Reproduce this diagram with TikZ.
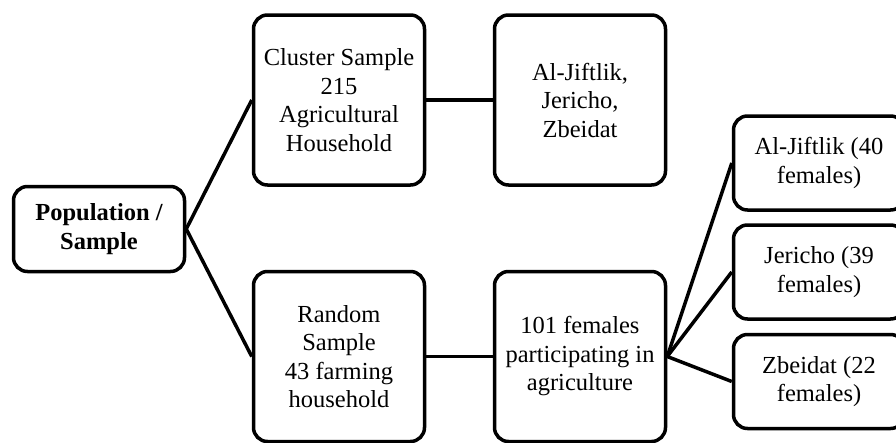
\documentclass[tikz,border=0pt]{standalone}
\usepackage{fontspec}
\setmainfont{Liberation Serif}
\begin{document}
\begin{tikzpicture}[
  x=1pt, y=-1pt,
  big_box/.style={draw, rectangle, rounded corners=14pt, line width=3.5pt, minimum width=171pt, minimum height=170pt, inner sep=0pt, align=center, font=\fontsize{24.5}{28.5}\selectfont},
  side_box/.style={big_box, minimum height=94pt},
  root_box/.style={big_box, minimum height=85pt, font=\fontsize{24.5}{29.5}\selectfont\bfseries},
  link/.style={line width=3.5pt},
]
\useasboundingbox (0,0) rectangle (896,442);
\clip (0,0) rectangle (896,442);
\draw (99,229) node (P) [root_box] {Population /\\Sample};
\draw (339,100) node (C) [big_box] {Cluster Sample\\215\\Agricultural\\Household};
\draw (339,356.5) node (R) [big_box] {Random\\Sample\\43 farming\\household};
\draw (580,100) node (V) [big_box] {Al-Jiftlik,\\Jericho,\\Zbeidat};
\draw (580,356.5) node (F) [big_box] {101 females\\participating in\\agriculture};
\draw (819,163) node (A) [side_box] {Al-Jiftlik (40\\females)};
\draw (819,272) node (J) [side_box] {Jericho (39\\females)};
\draw (819,381.5) node (Z) [side_box] {Zbeidat (22\\females)};
\draw [link] (P.east) -- (C.west);
\draw [link] (P.east) -- (R.west);
\draw [link] (C.east) -- (V.west);
\draw [link] (R.east) -- (F.west);
\draw [link] (F.east) -- (A.west);
\draw [link] (F.east) -- (J.west);
\draw [link] (F.east) -- (Z.west);
\end{tikzpicture}
\end{document}
